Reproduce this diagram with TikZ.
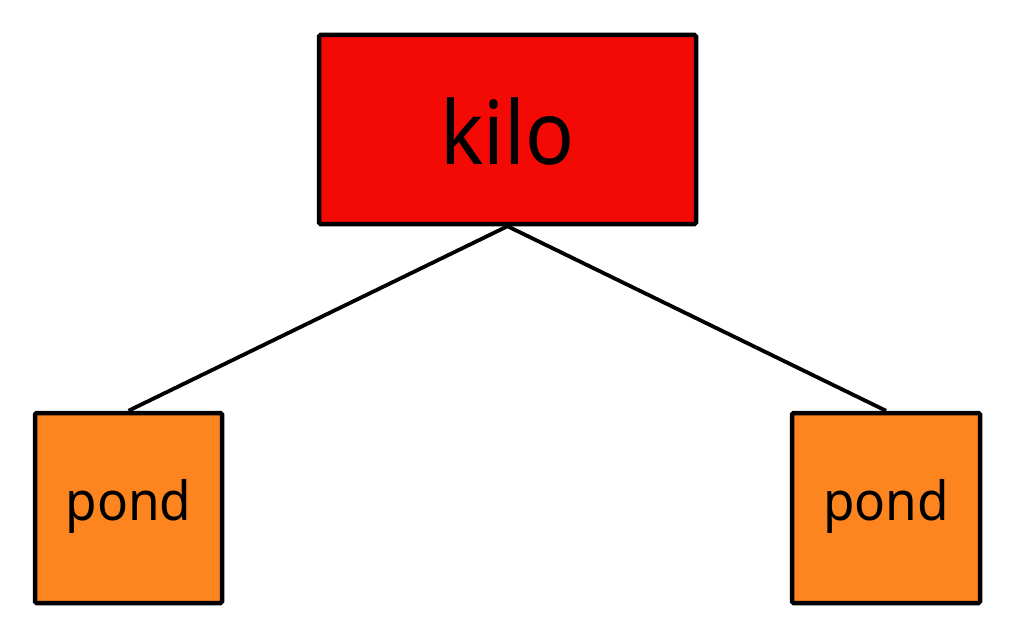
\documentclass[tikz,border=0pt]{standalone}
\usepackage{fontspec}
\setmainfont{Noto Sans}
\definecolor{topred}{RGB}{244,10,5}
\definecolor{leaforange}{RGB}{253,133,32}
\begin{document}
\begin{tikzpicture}[x=1pt,y=-1pt,
  box/.style={draw=black,line width=4.5pt,rounded corners=1.5pt,inner sep=0pt,anchor=center},
  link/.style={draw=black,line width=3.8pt}]
\useasboundingbox (0,0) rectangle (1024,639);
\node[box,fill=topred,minimum width=377pt,minimum height=189pt] (kilo) at (507.5,129.5) {};
\node[box,fill=leaforange,minimum width=187pt,minimum height=190pt] (pondL) at (128.5,508) {};
\node[box,fill=leaforange,minimum width=188pt,minimum height=190pt] (pondR) at (886,508) {};
\node[font=\fontsize{88}{92}\selectfont,xscale=0.92,transform shape] (kilot) at ([yshift=-2pt]kilo.center) {kilo};
\node[font=\fontsize{54}{58}\selectfont,xscale=0.95,transform shape] (pondLt) at ([yshift=2pt]pondL.center) {pond};
\node[font=\fontsize{54}{58}\selectfont,xscale=0.95,transform shape] (pondRt) at ([yshift=2pt]pondR.center) {pond};
\draw[link] (kilo.south) -- (pondL.north);
\draw[link] (kilo.south) -- (pondR.north);
\end{tikzpicture}
\end{document}
